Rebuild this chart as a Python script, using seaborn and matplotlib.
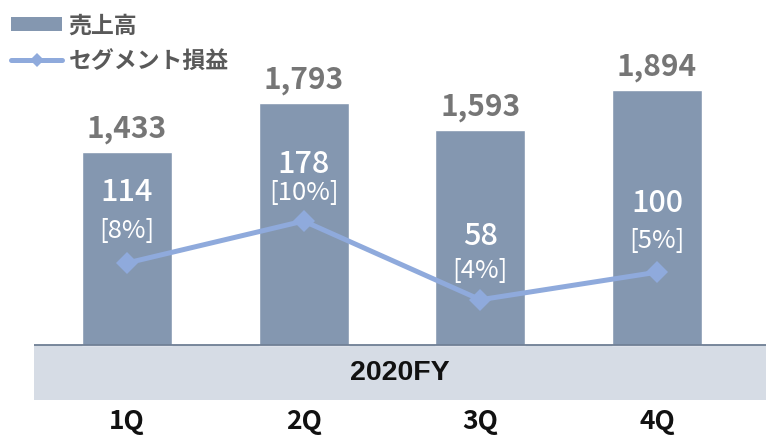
import numpy as np
import pandas as pd
import matplotlib
matplotlib.use("Agg")
import matplotlib.pyplot as plt
import matplotlib.transforms as mtransforms
from matplotlib.patches import Patch
from matplotlib.lines import Line2D
import seaborn as sns

# ---- data ----
quarters = ["1Q", "2Q", "3Q", "4Q"]
sales = [1433, 1793, 1593, 1894]
profit = [114, 178, 58, 100]
period_label = "2020FY"
legend_labels = ["売上高", "セグメント損益"]

# ---- style ----
sns.set_theme(style="white")
plt.rcParams["font.family"] = ["Noto Sans CJK JP", "DejaVu Sans"]

BAR = "#8497B0"
LINE = "#8FAADC"
BAND = "#D6DCE5"
BAND_EDGE = "#6E7E94"
GRAY = "#767676"

W, H = 766, 448
fig = plt.figure(figsize=(W / 100, H / 100), dpi=100)
ax_left, ax_top, ax_bot = 34, 0, 400
ax = fig.add_axes([ax_left / W, (H - ax_bot) / H, (W - ax_left) / W, (ax_bot - ax_top) / H])

df = pd.DataFrame({"quarter": quarters, "sales": sales})
sns.barplot(data=df, x="quarter", y="sales", order=quarters, color=BAR,
            width=0.51, saturation=1, ax=ax, zorder=2)

# pixel scale for sales axis: bar baseline at y=345 px, 0.1347 px per unit
px_per_sales = 0.1347
base_px = 345
ax.set_ylim(-(ax_bot - base_px) / px_per_sales, (base_px - ax_top) / px_per_sales)
ax.set_xlim(-0.526, 3.617)

# band below baseline
ax.axhspan(ax.get_ylim()[0], 0, color=BAND, zorder=1, lw=0)
ax.axhline(0, color=BAND_EDGE, lw=1.3, zorder=3)
trans = mtransforms.blended_transform_factory(ax.transAxes, ax.transData)
ax.text(0.5, ax.get_ylim()[0] / 2, period_label, transform=trans, ha="center", va="center",
        fontsize=20.5, fontweight="bold", color="#111111", zorder=4,
        family=["Liberation Sans", "DejaVu Sans"])

for i, v in enumerate(sales):
    ax.annotate(f"{v:,}", (i, v), xytext=(0, 6), textcoords="offset points",
                ha="center", va="bottom", fontsize=21.5, fontweight="bold", color=GRAY)

ax.set_xlabel("")
ax.set_ylabel("")
ax.set_yticks([])
ax.tick_params(axis="x", length=0, pad=6, labelsize=19)
for t in ax.get_xticklabels():
    t.set_fontweight("bold")
    t.set_color("#111111")
for s in ax.spines.values():
    s.set_visible(False)

# secondary axis for profit
ax2 = ax.twinx()
x_pos = np.arange(len(quarters))
sns.lineplot(x=x_pos, y=profit, ax=ax2, color=LINE, lw=3.6, marker="D",
             markersize=11.5, markeredgewidth=0, zorder=5)
zero_px, px_per_profit = 337.8, 0.656
ax2.set_ylim(-(ax_bot - zero_px) / px_per_profit, (zero_px - ax_top) / px_per_profit)
ax2.set_yticks([])
for s in ax2.spines.values():
    s.set_visible(False)

# label offsets (pixels above the marker): number, percentage
num_off = [71, 57, 63, 69]
pct_off = [32, 28, 29, 31]
for i, (p, s) in enumerate(zip(profit, sales)):
    ax2.annotate(f"{p}", (i, p), xytext=(0, num_off[i] * 0.72), textcoords="offset points",
                 ha="center", va="center", fontsize=22, fontweight="medium", color="white")
    ax2.annotate(f"[{round(p / s * 100)}%]", (i, p), xytext=(0, pct_off[i] * 0.72),
                 textcoords="offset points", ha="center", va="center",
                 fontsize=18.5, fontweight="normal", color="white")

handles = [Patch(facecolor=BAR, edgecolor="none"),
           Line2D([0], [0], color=LINE, lw=3.6, marker="D", markersize=7, markeredgewidth=0)]
leg = fig.legend(handles, legend_labels, loc="upper left", bbox_to_anchor=(-0.009, 1.009),
                 frameon=False, fontsize=16.5, handlelength=2.2, handleheight=0.55,
                 handletextpad=0.3, labelspacing=0.55, borderaxespad=0.3, borderpad=0.5)
for t in leg.get_texts():
    t.set_color("#595959")
    t.set_fontweight("bold")

fig.savefig("out.png", dpi=100)
